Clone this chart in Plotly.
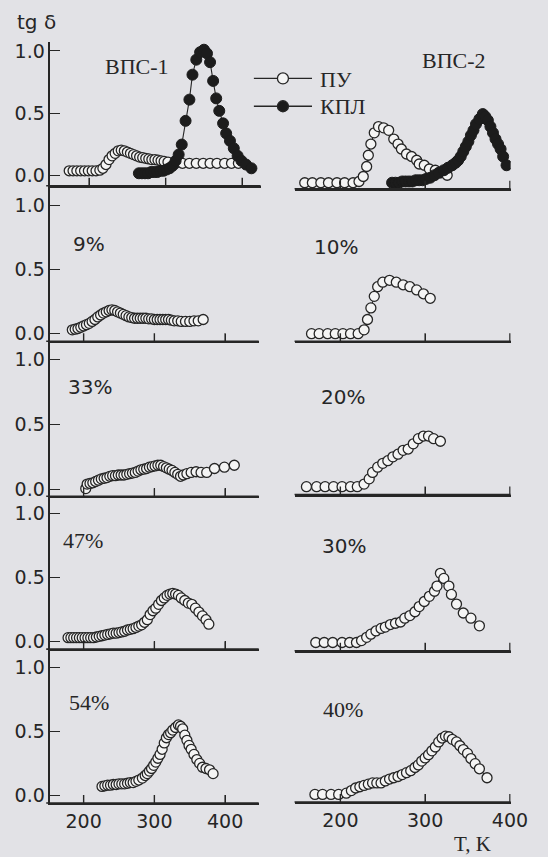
import plotly.graph_objects as go

W, H = 548, 857

# ---------------- data: tg(delta) vs T, K ----------------
# ВПС-1
vps1_pu_T = [174, 179, 184, 189, 194, 199, 204, 209, 214, 218, 222, 226, 230, 234, 238, 242, 246, 250, 254, 258,
             262, 266, 270, 274, 278, 282, 286, 290, 294, 298, 303, 313, 322, 331, 340, 349, 358, 367, 377, 386, 395]
vps1_pu = [0.04, 0.04, 0.04, 0.04, 0.04, 0.04, 0.04, 0.04, 0.045, 0.06, 0.09, 0.13, 0.16, 0.18, 0.20, 0.205, 0.20,
           0.19, 0.18, 0.17, 0.16, 0.15, 0.145, 0.14, 0.135, 0.13, 0.13, 0.125, 0.12, 0.115, 0.11, 0.10, 0.10, 0.10,
           0.10, 0.10, 0.10, 0.10, 0.10, 0.10, 0.10]
vps1_kpl_T = [265, 269, 273, 277, 281, 285, 289, 293, 297, 301, 305, 309, 313, 317, 321, 326, 331, 335, 340, 345,
              350, 354, 358, 362, 366, 370, 375, 379, 384, 389, 394, 399, 405, 412]
vps1_kpl = [0.02, 0.02, 0.02, 0.02, 0.03, 0.03, 0.03, 0.04, 0.04, 0.05, 0.06, 0.08, 0.12, 0.17, 0.25, 0.44, 0.61,
            0.81, 0.93, 0.99, 1.01, 0.98, 0.91, 0.76, 0.62, 0.52, 0.42, 0.34, 0.28, 0.22, 0.16, 0.12, 0.09, 0.06]

# ВПС-2
vps2_pu_T = [158, 167, 177, 186, 196, 205, 215, 222, 227, 231, 233, 236, 240, 245, 251, 257, 263, 268, 272, 278,
             284, 290, 293, 299, 305, 312, 319, 326]
vps2_pu = [0, 0, 0, 0, 0, 0, 0, 0.01, 0.05, 0.13, 0.22, 0.31, 0.40, 0.45, 0.44, 0.42, 0.35, 0.31, 0.27, 0.23,
           0.21, 0.18, 0.15, 0.14, 0.11, 0.10, 0.08, 0.06]
vps2_kpl_T = [261, 265, 269, 273, 277, 281, 285, 289, 293, 297, 301, 306, 311, 316, 322, 327, 332, 336, 339, 342,
              345, 348, 351, 354, 357, 360, 364, 368, 371, 374, 377, 380, 383, 386, 389, 392, 396]
vps2_kpl = [0, 0, 0, 0.01, 0.01, 0.01, 0.01, 0.02, 0.02, 0.02, 0.03, 0.04, 0.06, 0.08, 0.10, 0.12, 0.14, 0.16,
            0.18, 0.21, 0.25, 0.29, 0.33, 0.38, 0.42, 0.47, 0.51, 0.55, 0.53, 0.50, 0.45, 0.40, 0.35, 0.31, 0.27,
            0.21, 0.14]

# ВПС-1 series, ПУ content
pu9_T = [184, 188, 192, 196, 200, 204, 208, 212, 216, 220, 224, 228, 232, 236, 240, 244, 248, 252, 256, 260, 264,
         268, 272, 276, 280, 284, 288, 292, 296, 300, 304, 308, 312, 316, 320, 324, 328, 333, 338, 344, 350, 356,
         362, 369]
pu9 = [0.03, 0.035, 0.04, 0.05, 0.06, 0.07, 0.08, 0.095, 0.11, 0.13, 0.145, 0.16, 0.17, 0.18, 0.185, 0.18, 0.17,
       0.16, 0.15, 0.14, 0.13, 0.125, 0.12, 0.12, 0.12, 0.12, 0.12, 0.115, 0.115, 0.11, 0.11, 0.11, 0.11, 0.11,
       0.11, 0.105, 0.10, 0.10, 0.095, 0.095, 0.095, 0.10, 0.10, 0.11]

pu33_T = [203, 205, 209, 213, 217, 221, 225, 229, 233, 237, 241, 245, 249, 253, 257, 261, 265, 269, 273, 277, 281,
          285, 289, 293, 297, 301, 305, 309, 313, 317, 321, 325, 329, 333, 337, 341, 346, 352, 359, 366, 374, 385,
          399, 413]
pu33 = [0.005, 0.04, 0.045, 0.05, 0.06, 0.07, 0.08, 0.085, 0.09, 0.10, 0.105, 0.105, 0.11, 0.11, 0.11, 0.115, 0.12,
        0.125, 0.13, 0.14, 0.15, 0.155, 0.16, 0.17, 0.175, 0.18, 0.185, 0.185, 0.175, 0.165, 0.155, 0.145, 0.13,
        0.115, 0.10, 0.11, 0.12, 0.13, 0.135, 0.13, 0.13, 0.16, 0.17, 0.185]

pu47_T = [178, 182, 186, 190, 194, 198, 202, 206, 210, 214, 218, 222, 226, 230, 234, 238, 242, 246, 250, 254, 258,
          262, 266, 270, 274, 278, 282, 286, 290, 294, 298, 302, 306, 310, 314, 318, 322, 326, 330, 334, 338, 343,
          348, 353, 358, 363, 368, 373, 377]
pu47 = [0.03, 0.03, 0.03, 0.03, 0.03, 0.03, 0.03, 0.03, 0.03, 0.03, 0.035, 0.04, 0.045, 0.05, 0.055, 0.06, 0.065,
        0.065, 0.07, 0.075, 0.08, 0.09, 0.095, 0.10, 0.11, 0.12, 0.13, 0.15, 0.17, 0.21, 0.24, 0.26, 0.29, 0.32,
        0.34, 0.36, 0.37, 0.375, 0.37, 0.36, 0.34, 0.32, 0.30, 0.29, 0.26, 0.23, 0.20, 0.17, 0.135]

pu54_T = [226, 230, 234, 238, 242, 246, 250, 254, 258, 262, 266, 270, 274, 278, 283, 287, 290, 293, 296, 299, 302,
          305, 308, 311, 314, 317, 320, 323, 326, 330, 334, 337, 340, 343, 346, 349, 352, 356, 360, 364, 368, 373,
          378, 383]
pu54 = [0.07, 0.075, 0.08, 0.08, 0.085, 0.085, 0.09, 0.09, 0.09, 0.095, 0.10, 0.10, 0.11, 0.12, 0.135, 0.155, 0.17,
        0.19, 0.21, 0.235, 0.26, 0.29, 0.32, 0.36, 0.41, 0.45, 0.475, 0.49, 0.51, 0.53, 0.55, 0.54, 0.52, 0.47, 0.43,
        0.39, 0.36, 0.32, 0.28, 0.25, 0.22, 0.21, 0.20, 0.17]

# ВПС-2 series, ПУ content
pu10_T = [166, 175, 185, 194, 203, 212, 221, 228, 232, 236, 240, 244, 250, 258, 266, 274, 282, 290, 298, 306]
pu10 = [0, 0, 0, 0, 0, 0, 0, 0.03, 0.11, 0.20, 0.29, 0.365, 0.40, 0.415, 0.40, 0.38, 0.365, 0.34, 0.31, 0.275]

pu20_T = [160, 172, 182, 192, 202, 212, 220, 228, 234, 238, 244, 250, 256, 262, 268, 274, 280, 286, 292, 298, 304,
          310, 318]
pu20 = [0.02, 0.02, 0.02, 0.02, 0.02, 0.02, 0.02, 0.04, 0.08, 0.13, 0.17, 0.20, 0.22, 0.25, 0.27, 0.30, 0.31, 0.35,
        0.39, 0.41, 0.41, 0.39, 0.37]

pu30_T = [171, 181, 191, 202, 211, 219, 225, 231, 236, 242, 248, 253, 259, 265, 271, 276, 282, 288, 293, 299, 305,
          311, 314, 318, 322, 328, 331, 337, 345, 354, 364]
pu30 = [0, 0, 0, 0, 0, 0, 0.015, 0.04, 0.065, 0.09, 0.11, 0.12, 0.14, 0.15, 0.16, 0.19, 0.21, 0.24, 0.28, 0.32,
        0.36, 0.40, 0.44, 0.54, 0.50, 0.44, 0.375, 0.30, 0.23, 0.19, 0.13]

pu40_T = [170, 179, 189, 198, 207, 213, 218, 223, 228, 233, 238, 243, 248, 253, 258, 263, 268, 273, 278, 283, 288,
          292, 296, 300, 304, 308, 312, 316, 320, 324, 328, 332, 337, 341, 345, 350, 354, 359, 364, 373]
pu40 = [0, 0, 0, 0, 0.01, 0.03, 0.05, 0.06, 0.07, 0.08, 0.09, 0.09, 0.09, 0.105, 0.12, 0.13, 0.14, 0.155, 0.17,
        0.185, 0.21, 0.23, 0.26, 0.285, 0.31, 0.34, 0.37, 0.41, 0.44, 0.455, 0.45, 0.43, 0.41, 0.38, 0.35, 0.32,
        0.28, 0.24, 0.20, 0.13]

t_ticks = [200, 300, 400]
y_ticks = [0.0, 0.5, 1.0]
y_tick_text = ["0.0", "0.5", "1.0"]

# ---------------- panel geometry (pixels) ----------------
# x0,x1: horizontal extent; t0: temperature at x0; ppk: pixels per kelvin
# bot/top: vertical extent; zero: pixel row of tg=0; unit: pixels per 1.0
panels = [
    dict(x0=52, x1=269, t0=149.4, ppk=0.79, bot=185, top=40, zero=175, unit=125.7, left=True, label=False),
    dict(x0=304, x1=527, t0=146, ppk=0.875, bot=188, top=40, zero=182, unit=125.7, left=False, label=False),
    dict(x0=52, x1=267, t0=153, ppk=0.73, bot=341.7, top=185, zero=334, unit=129.5, left=True, label=False),
    dict(x0=304, x1=527, t0=146, ppk=0.875, bot=341.7, top=188, zero=334, unit=129.5, left=False, label=False),
    dict(x0=52, x1=267, t0=153, ppk=0.73, bot=497.7, top=341.7, zero=490.7, unit=130.7, left=True, label=False),
    dict(x0=304, x1=527, t0=146, ppk=0.875, bot=496, top=341.7, zero=490.7, unit=130.7, left=False, label=False),
    dict(x0=52, x1=267, t0=153, ppk=0.73, bot=651.7, top=497.7, zero=644, unit=129, left=True, label=False),
    dict(x0=304, x1=527, t0=146, ppk=0.875, bot=653.3, top=496, zero=645, unit=129, left=False, label=False),
    dict(x0=52, x1=267, t0=153, ppk=0.73, bot=806.7, top=651.7, zero=799, unit=129, left=True, label=True),
    dict(x0=304, x1=527, t0=146, ppk=0.875, bot=805.7, top=653.3, zero=798, unit=129, left=False, label=True),
]

INK = "#262626"
BG = "#e2e2e6"
SANS = "DejaVu Sans, Arial, sans-serif"
SERIF = "Liberation Serif, Times New Roman, serif"


def xid(i):
    return "x" if i == 1 else f"x{i}"


def yid(i):
    return "y" if i == 1 else f"y{i}"


fig = go.Figure()
layout = {}
shapes = []
for i, p in enumerate(panels, start=1):
    xr = [p["t0"], p["t0"] + (p["x1"] - p["x0"]) / p["ppk"]]
    yr = [-(p["bot"] - p["zero"]) / p["unit"], (p["zero"] - p["top"]) / p["unit"]]
    xa = dict(domain=[p["x0"] / W, p["x1"] / W], range=xr, anchor=yid(i), showgrid=False, zeroline=False,
              showline=True, linecolor=INK, linewidth=1.6, ticks="inside", ticklen=8, tickwidth=1.4,
              tickcolor=INK, tickvals=t_ticks, showticklabels=p["label"],
              tickfont=dict(family=SANS, size=19, color=INK))
    ya = dict(domain=[1 - p["bot"] / H, 1 - p["top"] / H], range=yr, anchor=xid(i), showgrid=False,
              zeroline=False, showline=p["left"], linecolor=INK, linewidth=1.6,
              ticks="inside" if p["left"] else "", ticklen=10, tickwidth=1.4, tickcolor=INK,
              tickvals=y_ticks, ticktext=y_tick_text, showticklabels=p["left"],
              tickfont=dict(family=SANS, size=19, color=INK))
    layout["xaxis" if i == 1 else f"xaxis{i}"] = xa
    layout["yaxis" if i == 1 else f"yaxis{i}"] = ya
    # baseline and upward ticks of every temperature axis, drawn explicitly
    shapes.append(dict(type="line", xref=f"{xid(i)} domain", yref=f"{yid(i)} domain",
                       x0=-0.02 if p["left"] else 0, x1=1, y0=0, y1=0, line=dict(color=INK, width=1.6)))
    for t in t_ticks:
        if xr[0] <= t <= xr[1]:
            shapes.append(dict(type="line", xref=xid(i), yref=f"{yid(i)} domain", x0=t, x1=t,
                               ysizemode="pixel", yanchor=0, y0=0, y1=8, line=dict(color=INK, width=1.4)))

open_marker = dict(symbol="circle", size=10, color="#f4f4f4", line=dict(color=INK, width=1.3))
full_marker = dict(symbol="circle", size=11, color="#1c1c1c", line=dict(color="#1c1c1c", width=1))
line_style = dict(color=INK, width=1.1)


def add(T, v, idx, marker):
    fig.add_trace(go.Scatter(x=T, y=v, mode="lines+markers", marker=marker, line=line_style,
                             xaxis=xid(idx), yaxis=yid(idx), showlegend=False, hoverinfo="skip"))


add(vps1_pu_T, vps1_pu, 1, open_marker)
add(vps1_kpl_T, vps1_kpl, 1, full_marker)
add(vps2_pu_T, vps2_pu, 2, open_marker)
add(vps2_kpl_T, vps2_kpl, 2, full_marker)
add(pu9_T, pu9, 3, open_marker)
add(pu10_T, pu10, 4, open_marker)
add(pu33_T, pu33, 5, open_marker)
add(pu20_T, pu20, 6, open_marker)
add(pu47_T, pu47, 7, open_marker)
add(pu30_T, pu30, 8, open_marker)
add(pu54_T, pu54, 9, open_marker)
add(pu40_T, pu40, 10, open_marker)

# key: line with a centred symbol for each material
for ky, filled in [(77, False), (105, True)]:
    yk = 1 - ky / H
    shapes.append(dict(type="line", xref="paper", yref="paper", x0=262 / W, x1=322 / W, y0=yk, y1=yk,
                       line=dict(color=INK, width=1.3)))
    shapes.append(dict(type="circle", xref="paper", yref="paper", xsizemode="pixel", ysizemode="pixel",
                       xanchor=292 / W, yanchor=yk, x0=-5.5, x1=5.5, y0=-5.5, y1=5.5,
                       fillcolor="#1c1c1c" if filled else "#f4f4f4", line=dict(color=INK, width=1.3)))


def note(text, x, y, family, size, xanchor="center"):
    return dict(text=text, x=x / W, y=1 - y / H, xref="paper", yref="paper", showarrow=False,
                xanchor=xanchor, yanchor="middle", font=dict(family=family, size=size, color=INK))


annotations = [
    note("tg δ", 38, 20, SANS, 20),
    note("ВПС-1", 141, 65, SERIF, 22),
    note("ВПС-2", 469, 59, SERIF, 22),
    note("ПУ", 328, 78, SERIF, 22, "left"),
    note("КПЛ", 328, 105, SERIF, 22, "left"),
    note("9%", 92, 244, SANS, 20),
    note("10%", 347, 247, SANS, 20),
    note("33%", 93, 388, SANS, 20),
    note("20%", 354, 398, SANS, 20),
    note("47%", 86, 542, SERIF, 22),
    note("30%", 355, 548, SANS, 20),
    note("54%", 92, 705, SERIF, 22),
    note("40%", 354, 712, SERIF, 22),
    note("T, K", 488, 848, SERIF, 21),
]

fig.update_layout(
    width=W, height=H, margin=dict(l=0, r=0, t=0, b=0),
    paper_bgcolor=BG, plot_bgcolor="rgba(0,0,0,0)",
    showlegend=False, shapes=shapes, annotations=annotations,
    **layout,
)

fig.write_html("out.html")
